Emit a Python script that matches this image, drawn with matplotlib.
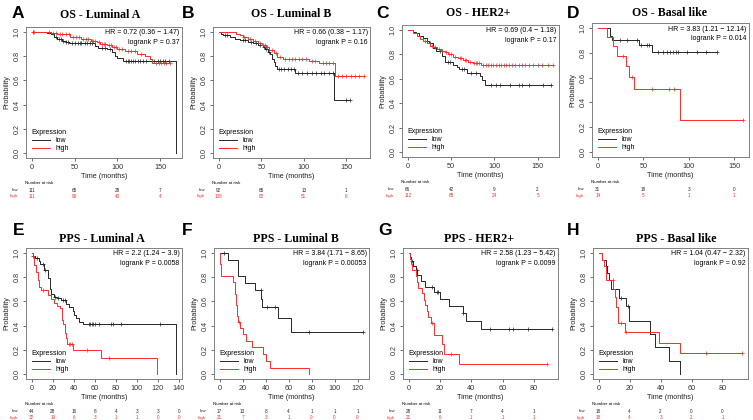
import numpy as np
import matplotlib
matplotlib.use("Agg")
import matplotlib.pyplot as plt
import matplotlib.transforms as mtransforms
from matplotlib.ticker import FormatStrFormatter

plt.rcParams['font.family'] = ['Liberation Sans', 'DejaVu Sans']

# ---- A: OS - Luminal A
a_low_t = [18, 22, 26, 30, 35, 39.5, 44, 74, 77, 88, 94, 97.7, 100, 107, 168.6]
a_low_s = [0.99, 0.98, 0.96, 0.94, 0.925, 0.915, 0.905, 0.88, 0.87, 0.855, 0.835, 0.805, 0.787, 0.76, 0.0]
a_low_c = [1, 28, 32, 34, 36, 40, 42, 47, 50, 54, 56, 58, 62, 65, 68, 70, 82, 85, 91, 110, 112, 114,
           116, 118, 121, 124, 126, 130, 133, 140, 143, 147, 150, 153, 156, 160]
a_low_end = 168.6
a_high_t = [16, 22, 30, 37.6, 45, 57, 68.6, 76, 80, 88, 94, 99.6, 109, 123, 132.5, 137.6, 140]
a_high_s = [0.995, 0.99, 0.985, 0.98, 0.955, 0.94, 0.925, 0.915, 0.90, 0.89, 0.875, 0.86, 0.84, 0.82,
            0.805, 0.78, 0.745]
a_high_c = [3, 20, 25, 28, 33, 35, 40, 43, 48, 52, 55, 60, 63, 66, 70, 72, 74, 78, 82, 84, 86, 90, 92,
            96, 98, 102, 105, 112, 116, 120, 128, 145, 148, 151, 154, 157, 161]
a_high_end = 161

# ---- B: OS - Luminal B
b_low_t = [2, 5.5, 12.8, 18.7, 24.5, 34, 40, 46, 51.8, 54.5, 57.6, 60, 62, 64.6, 66.5, 68.5, 89.5, 135.4]
b_low_s = [0.986, 0.978, 0.955, 0.94, 0.93, 0.92, 0.91, 0.89, 0.877, 0.858, 0.836, 0.814, 0.78, 0.75,
           0.72, 0.69, 0.664, 0.44]
b_low_c = [7, 10, 28, 31, 38, 44, 49, 53, 56, 59, 71, 73, 77, 81, 85, 88, 92.6, 98.4, 104, 110, 114,
           120, 124, 129.6, 134.6, 150, 154]
b_low_end = 154
b_high_t = [20.6, 24.5, 28.4, 34, 40, 46, 50.6, 55.6, 59.5, 64.6, 69, 75, 106, 118, 137]
b_high_s = [0.986, 0.973, 0.954, 0.937, 0.926, 0.91, 0.89, 0.877, 0.85, 0.822, 0.795, 0.773, 0.76,
            0.74, 0.637]
b_high_c = [30, 37, 43, 48, 52, 54, 57, 62, 67, 72, 78, 82, 86, 90, 94, 98, 102, 110, 113, 122, 126,
            130, 134, 140, 145, 150, 155, 160, 165, 171]
b_high_end = 171

# ---- C: OS - HER2+
c_low_t = [2.7, 6.5, 9.5, 13.3, 17.9, 21.7, 24.7, 29.3, 33, 40, 42.6, 52, 56.7, 59.7, 68, 83.3, 85.5, 89.4]
c_low_s = [0.995, 0.986, 0.978, 0.95, 0.93, 0.91, 0.89, 0.85, 0.83, 0.787, 0.74, 0.714, 0.70, 0.68,
           0.65, 0.62, 0.59, 0.55]
c_low_c = [26, 37, 39, 46, 49, 62.6, 65, 73, 78.7, 95.8, 101.5, 107, 118.6, 128, 132, 139.5, 156.7, 166]
c_low_end = 166
c_high_t = [2.7, 6.5, 10.3, 14, 17.9, 21.7, 25.5, 29.3, 33.8, 38.8, 42.6, 46.4, 52, 57.8, 64, 69, 75, 84.4]
c_high_s = [0.995, 0.973, 0.95, 0.924, 0.905, 0.89, 0.87, 0.856, 0.84, 0.83, 0.817, 0.80, 0.78, 0.768,
            0.755, 0.74, 0.733, 0.714]
c_high_c = [20, 28, 31, 36, 40, 44, 48, 50, 55, 60, 62, 66, 67, 72, 77, 79, 80, 82, 87, 90, 93, 96, 99,
            102, 105, 108, 111, 114, 117, 120, 124, 128, 132, 136, 140, 145, 150, 155, 162, 168]
c_high_end = 168

# ---- D: OS - Basal like
d_low_t = [13.2, 15.8, 45, 60]
d_low_s = [0.935, 0.90, 0.862, 0.804]
d_low_c = [24, 32, 42.6, 47.8, 53.7, 56, 66.5, 72, 76.5, 79.4, 82.4, 85.7, 88.6, 98.5, 108.8, 118.7, 131]
d_low_end = 131
d_high_t = [9.6, 17, 21.3, 30.5, 34.2, 39.7, 90.4]
d_high_s = [0.929, 0.857, 0.776, 0.69, 0.605, 0.512, 0.256]
d_high_c = [28, 37.9, 60, 78.3, 83.8, 160]
d_high_end = 160

# ---- E: PPS - Luminal A
e_low_t = [1, 3, 7, 8.2, 11.4, 15.8, 17.7, 18.3, 20.8, 24, 27.8, 32.5, 35.5, 38.8, 40.4, 42, 45, 49.2, 137.5]
e_low_s = [0.977, 0.955, 0.93, 0.91, 0.86, 0.79, 0.70, 0.66, 0.64, 0.625, 0.61, 0.58, 0.555, 0.52,
           0.49, 0.46, 0.43, 0.415, 0.0]
e_low_c = [1.6, 5, 10.4, 12.6, 22, 24.5, 30, 31.5, 54, 55.5, 57, 58.6, 60.2, 64, 75.7, 77.6, 85.2, 121.7]
e_low_end = 137.5
e_high_t = [1, 2, 4, 5.5, 7, 9, 15.1, 18, 20.8, 24, 27, 28.4, 30, 31.5, 33, 34, 39.7, 66.2, 119.2]
e_high_s = [0.97, 0.90, 0.84, 0.78, 0.72, 0.69, 0.65, 0.62, 0.59, 0.565, 0.545, 0.45, 0.41, 0.34, 0.30,
            0.25, 0.20, 0.13, 0.0]
e_high_c = [11, 35, 36.5, 38, 52.4, 73.5]
e_high_end = 119.2

# ---- F: PPS - Luminal B
f_low_t = [7.5, 16, 22.4, 31, 36.2, 37, 51, 62]
f_low_s = [0.94, 0.81, 0.75, 0.69, 0.62, 0.55, 0.46, 0.345]
f_low_c = [3.7, 36, 41, 48, 77.6, 125]
f_low_end = 125
f_high_t = [0.6, 1.5, 11.5, 13.2, 14.4, 15.3, 16.1, 17.3, 20.5, 22.8, 28.5, 37.8, 40.6, 44, 77.6]
f_high_s = [0.905, 0.81, 0.76, 0.66, 0.57, 0.48, 0.43, 0.38, 0.33, 0.27, 0.22, 0.165, 0.11, 0.05, 0.0]
f_high_c = [16.5]
f_high_end = 77.6

# ---- G: PPS - HER2+
g_low_t = [1, 1.5, 2.5, 4.5, 5.5, 8, 10.7, 16, 19.8, 26, 34.5, 36.6, 45.9]
g_low_s = [0.964, 0.929, 0.893, 0.857, 0.821, 0.765, 0.72, 0.68, 0.62, 0.56, 0.505, 0.437, 0.374]
g_low_c = [2, 5, 14.7, 18, 19, 35, 51.8, 64, 67, 76, 91.8]
g_low_end = 91.8
g_high_t = [0.6, 1.2, 2.3, 4.4, 5, 5.9, 8.4, 10, 10.7, 11.4, 12.6, 14.3, 16.4, 21.3, 22.7, 32.4]
g_high_s = [0.95, 0.905, 0.86, 0.81, 0.76, 0.71, 0.665, 0.615, 0.57, 0.52, 0.475, 0.42, 0.32, 0.245,
            0.165, 0.082]
g_high_c = [15, 27, 88.6]
g_high_end = 88.6

# ---- H: PPS - Basal like
h_low_t = [2.3, 4.5, 5.5, 6.5, 8.1, 13, 17.9, 19.6, 33.2, 36.6, 45.5, 52.8]
h_low_s = [0.944, 0.889, 0.833, 0.778, 0.70, 0.63, 0.56, 0.437, 0.33, 0.22, 0.11, 0.0]
h_low_c = [5, 14.5, 18.7]
h_low_end = 52.8
h_high_t = [2.3, 3.5, 4.9, 9.4, 10.2, 11, 12.3, 17, 39, 52.3]
h_high_s = [0.944, 0.889, 0.778, 0.70, 0.64, 0.55, 0.42, 0.35, 0.26, 0.175]
h_high_c = [8.9, 14.5, 17.9, 69.4, 92.8]
h_high_end = 92.8

letters = ['A', 'B', 'C', 'D', 'E', 'F', 'G', 'H']
titles = ['OS - Luminal A', 'OS - Luminal B', 'OS - HER2+', 'OS - Basal like',
          'PPS - Luminal A', 'PPS - Luminal B', 'PPS - HER2+', 'PPS - Basal like']
hr_text = ['HR = 0.72 (0.36 \u2212 1.47)', 'HR = 0.66 (0.38 \u2212 1.17)', 'HR = 0.69 (0.4 \u2212 1.18)',
           'HR = 3.83 (1.21 \u2212 12.14)', 'HR = 2.2 (1.24 \u2212 3.9)', 'HR = 3.84 (1.71 \u2212 8.65)',
           'HR = 2.58 (1.23 \u2212 5.42)', 'HR = 1.04 (0.47 \u2212 2.32)']
p_text = ['logrank P = 0.37', 'logrank P = 0.16', 'logrank P = 0.17', 'logrank P = 0.014',
          'logrank P = 0.0058', 'logrank P = 0.00053', 'logrank P = 0.0099', 'logrank P = 0.92']

risk_times = [[0, 50, 100, 150]] * 4 + [[0, 20, 40, 60, 80, 100, 120, 140],
                                        [0, 20, 40, 60, 80, 100, 120],
                                        [0, 20, 40, 60, 80], [0, 20, 40, 60, 80]]
risk_low = [[111, 65, 28, 7], [92, 65, 13, 1], [66, 42, 9, 2], [31, 18, 3, 0],
            [44, 28, 16, 8, 4, 3, 3, 0], [17, 13, 8, 4, 1, 1, 1], [28, 11, 7, 4, 1], [18, 4, 2, 0, 0]]
risk_high = [[111, 90, 40, 4], [108, 82, 51, 6], [112, 88, 24, 5], [14, 5, 1, 1],
             [32, 19, 6, 3, 1, 1, 0, 0], [21, 7, 3, 1, 0, 0, 0], [21, 6, 1, 1, 1], [18, 4, 3, 2, 1]]

curves = [
    (a_low_t, a_low_s, a_low_c, a_low_end, a_high_t, a_high_s, a_high_c, a_high_end),
    (b_low_t, b_low_s, b_low_c, b_low_end, b_high_t, b_high_s, b_high_c, b_high_end),
    (c_low_t, c_low_s, c_low_c, c_low_end, c_high_t, c_high_s, c_high_c, c_high_end),
    (d_low_t, d_low_s, d_low_c, d_low_end, d_high_t, d_high_s, d_high_c, d_high_end),
    (e_low_t, e_low_s, e_low_c, e_low_end, e_high_t, e_high_s, e_high_c, e_high_end),
    (f_low_t, f_low_s, f_low_c, f_low_end, f_high_t, f_high_s, f_high_c, f_high_end),
    (g_low_t, g_low_s, g_low_c, g_low_end, g_high_t, g_high_s, g_high_c, g_high_end),
    (h_low_t, h_low_s, h_low_c, h_low_end, h_high_t, h_high_s, h_high_c, h_high_end),
]

# layout in pixels: box (left, top, right, bottom), title centre x, letter x
W, H = 753, 420
boxes = [(26, 27, 182, 158), (213, 27, 370, 158), (402, 25, 559, 157), (592, 23, 749, 157),
         (26, 248, 182, 379), (214, 248, 369, 379), (403, 248, 558, 379), (593, 248, 748, 379)]
title_x = [100, 291, 478, 669, 102, 296, 479, 676]
title_y = [15, 14, 13, 13, 239, 239, 239, 239]
letter_x = [12, 182, 376, 567, 13, 182, 378, 567]
letter_y = [18, 18, 18, 18, 235, 235, 235, 235]

LOWC = '#262626'
HIGHC = '#ff2a2a'


def km(ax, t, s, cens, end, color):
    x = [0] + list(t) + [end]
    y = [1.0] + list(s) + [s[-1]]
    ln, = ax.step(x, y, where='post', color=color, lw=0.7)
    st = np.array([1.0] + list(s))
    idx = np.searchsorted(np.array(t), np.array(cens), side='right')
    ax.plot(cens, st[idx], ls='none', marker='+', ms=2.6, mew=0.5, color=color)
    return ln


fig = plt.figure(figsize=(W / 100, H / 100), dpi=100)

for i in range(8):
    l, t, r, b = boxes[i]
    ax = fig.add_axes([l / W, 1 - b / H, (r - l) / W, (b - t) / H])
    lt, ls_, lc, le, ht, hs, hc, he = curves[i]
    l1 = km(ax, lt, ls_, lc, le, LOWC)
    l2 = km(ax, ht, hs, hc, he, HIGHC)
    xmax = max(le, he)
    ax.set_xlim(-0.04 * xmax, 1.04 * xmax)
    ax.set_ylim(-0.04, 1.04)
    ax.set_xticks(risk_times[i])
    ax.set_yticks([0, 0.2, 0.4, 0.6, 0.8, 1.0])
    ax.yaxis.set_major_formatter(FormatStrFormatter('%.1f'))
    ax.tick_params(labelsize=5.2, length=2.5, width=0.5, pad=1.5, colors='#333333')
    for lab in ax.get_yticklabels():
        lab.set_rotation(90)
        lab.set_va('center')
    for sp in ax.spines.values():
        sp.set_color('#808080')
        sp.set_linewidth(0.7)
    ax.set_xlabel('Time (months)', fontsize=5.2, labelpad=2, color='#222222')
    ax.set_ylabel('Probability', fontsize=5.2, labelpad=2, color='#222222')

    ax.text(0.985, 0.955, hr_text[i], transform=ax.transAxes, ha='right', va='center', fontsize=5)
    ax.text(0.985, 0.885, p_text[i], transform=ax.transAxes, ha='right', va='center', fontsize=5)

    leg = ax.legend([l1, l2], ['low', 'high'], title='Expression', loc='lower left',
                    bbox_to_anchor=(0.0, 0.0), frameon=False, fontsize=5, title_fontsize=5,
                    handlelength=2.6, handletextpad=0.9, labelspacing=0.15,
                    borderpad=0.3, alignment='left')

    fig.text(title_x[i] / W, 1 - title_y[i] / H, titles[i], ha='center', va='center',
             fontsize=8.6, fontweight='bold', family='Liberation Serif')
    fig.text(letter_x[i] / W, 1 - letter_y[i] / H, letters[i], ha='left', va='baseline',
             fontsize=12.5, fontweight='bold')

    # number at risk table
    tr = mtransforms.blended_transform_factory(ax.transData, fig.transFigure)
    y0 = 1 - (b + 25) / H
    y1 = 1 - (b + 32.5) / H
    y2 = 1 - (b + 38.5) / H
    fig.text((l - 1) / W, y0, 'Number at risk', fontsize=3.2, va='center', ha='left')
    fig.text((l - 8) / W, y1, 'low', fontsize=3.2, va='center', ha='right', color=LOWC)
    fig.text((l - 8) / W, y2, 'high', fontsize=3.2, va='center', ha='right', color=HIGHC)
    for tt, nl, nh in zip(risk_times[i], risk_low[i], risk_high[i]):
        ax.text(tt, y1, str(nl), transform=tr, fontsize=3.3, ha='center', va='center', color=LOWC)
        ax.text(tt, y2, str(nh), transform=tr, fontsize=3.3, ha='center', va='center', color=HIGHC)

fig.savefig('out.png', dpi=100)
